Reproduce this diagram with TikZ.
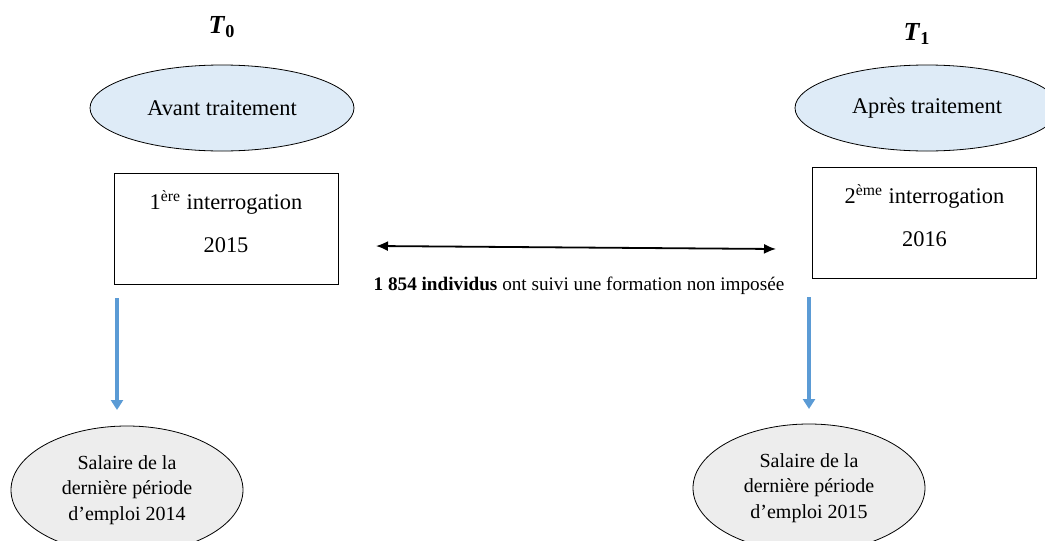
\documentclass[tikz,border=0pt]{standalone}
\usepackage{fontspec}
\setmainfont{Liberation Serif}
\usepackage{tikz}
\usetikzlibrary{shapes.geometric,arrows.meta,calc}

\definecolor{bleuclair}{HTML}{DEEBF7}
\definecolor{grisclair}{HTML}{EDEDED}
\definecolor{bleufleche}{HTML}{5B9BD5}

\begin{document}
\begin{tikzpicture}
[x=0.5pt, y=-0.5pt,
phase/.style={ellipse, draw, fill=bleuclair, minimum width=132pt, minimum height=43pt, inner sep=0pt, font=\fontsize{11.2}{13}\selectfont},
enquete/.style={rectangle, draw, minimum width=112pt, minimum height=55.5pt, align=center, text depth=7pt, font=\fontsize{11.2}{21.5}\selectfont},
salaire/.style={ellipse, draw, fill=grisclair, minimum width=116pt, minimum height=64pt, inner sep=0pt, align=center, font=\fontsize{10}{12.6}\selectfont},
temps/.style={font=\fontsize{13}{15}\selectfont\bfseries},
suivi/.style={<->, >={Latex[length=6pt,width=5pt]}, line width=0.9pt},
descente/.style={->, >={Triangle[length=5pt,width=6pt]}, draw=bleufleche, fill=bleufleche, line width=1.6pt}]

\useasboundingbox (0,0) rectangle (1045,541);
\clip (0,0) rectangle (1045,541);

\node (t0) at (222, 27) [temps] {\textit{T}\textsubscript{0}};
\node (t1) at (917, 34) [temps] {\textit{T}\textsubscript{1}};
\node (avant) at (222, 108) [phase] {Avant traitement};
\node (apres) at (927, 108) [phase] {Après traitement};
\node (int1) at (226, 228.5) [enquete] {1\textsuperscript{ère} interrogation\\2015};
\node (int2) at (924.5, 222.5) [enquete] {2\textsuperscript{ème} interrogation\\2016};
\node (sal1) at (127, 490) [salaire] {Salaire de la\\dernière période\\d’emploi 2014};
\node (sal2) at (809, 488) [salaire] {Salaire de la\\dernière période\\d’emploi 2015};

\coordinate (g) at (376, 246);
\coordinate (d) at (776, 249);
\node (effectif) at (579, 286) [font=\fontsize{9.6}{12}\selectfont] {\textbf{1 854 individus} ont suivi une formation non imposée};
\draw [suivi] (g) -- (d);

\coordinate (h1) at (117, 298);
\coordinate (b1) at (117, 410);
\coordinate (h2) at (809, 297);
\coordinate (b2) at (809, 409);
\draw [descente] (h1) -- (b1);
\draw [descente] (h2) -- (b2);
\end{tikzpicture}
\end{document}
